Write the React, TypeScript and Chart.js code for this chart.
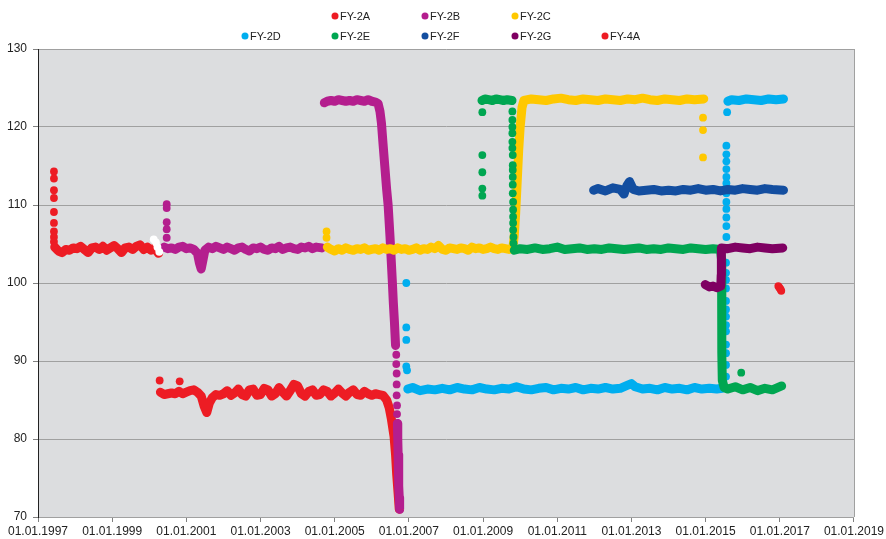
import React, { useEffect, useRef } from "react";
import { Chart, registerables } from "chart.js";

Chart.register(...registerables);

type P = [number, number];

// ---------- data (x = decimal year, y = value) ----------
const SERIES_NAMES = ["FY-2A", "FY-2B", "FY-2C", "FY-2D", "FY-2E", "FY-2F", "FY-2G", "FY-4A"];
const SERIES_COLORS = ["#ed1c24", "#b41e8e", "#ffc800", "#00aeef", "#00a651", "#134ea0", "#7f0062", "#ed1c24"];
const LEGEND_ROWS = [["FY-2A", "FY-2B", "FY-2C"], ["FY-2D", "FY-2E", "FY-2F", "FY-2G", "FY-4A"]];
const X_TICK_YEARS = [1997, 1999, 2001, 2003, 2005, 2007, 2009, 2011, 2013, 2015, 2017, 2019];

const FY2A_DOTS1: P[] = [[1997.43, 114.3], [1997.43, 113.4], [1997.43, 111.9], [1997.43, 110.9], [1997.43, 109.1], [1997.43, 107.7], [1997.43, 106.6], [1997.43, 105.9], [1997.43, 105.3]];
const FY2A_BAND1: P[] = [[1997.45, 104.6], [1997.55, 104.1], [1997.65, 103.9], [1997.75, 104.3], [1997.85, 104.2], [1997.95, 104.5], [1998.05, 104.4], [1998.15, 104.7], [1998.25, 104.3], [1998.35, 103.9], [1998.45, 104.5], [1998.55, 104.6], [1998.65, 104.3], [1998.75, 104.7], [1998.85, 104.2], [1998.95, 104.5], [1999.05, 104.8], [1999.15, 104.4], [1999.25, 103.9], [1999.35, 104.5], [1999.45, 104.6], [1999.55, 104.3], [1999.65, 104.7], [1999.75, 104.9], [1999.85, 104.3], [1999.95, 104.6], [2000.05, 104.2], [2000.15, 104.5], [2000.25, 103.8]];
const FY2A_DOTS2: P[] = [[2000.28, 87.5], [2000.82, 87.4]];
const FY2A_BAND2: P[] = [[2000.3, 86.0], [2000.4, 85.7], [2000.5, 85.8], [2000.6, 85.9], [2000.7, 85.8], [2000.8, 86.1], [2000.9, 85.8], [2001.0, 86.0], [2001.1, 86.2], [2001.2, 86.3], [2001.3, 86.0], [2001.4, 85.5], [2001.48, 84.2], [2001.55, 83.4], [2001.62, 84.6], [2001.7, 85.3], [2001.8, 85.7], [2001.9, 85.6], [2002.0, 85.8], [2002.1, 86.2], [2002.2, 85.6], [2002.3, 85.9], [2002.4, 86.4], [2002.5, 85.7], [2002.6, 85.5], [2002.7, 86.3], [2002.8, 86.4], [2002.9, 85.6], [2003.0, 85.7], [2003.1, 86.5], [2003.2, 86.3], [2003.3, 85.5], [2003.4, 85.8], [2003.5, 86.6], [2003.6, 86.0], [2003.7, 85.5], [2003.8, 86.2], [2003.9, 87.0], [2004.0, 86.8], [2004.1, 85.8], [2004.2, 85.5], [2004.3, 86.1], [2004.4, 86.3], [2004.5, 85.6], [2004.6, 85.7], [2004.7, 86.3], [2004.8, 86.1], [2004.9, 85.5], [2005.0, 85.9], [2005.1, 86.4], [2005.2, 85.9], [2005.3, 85.5], [2005.4, 86.0], [2005.5, 86.3], [2005.6, 85.7], [2005.7, 85.6], [2005.8, 86.1], [2005.9, 85.8], [2006.0, 85.6], [2006.1, 85.8], [2006.2, 85.7], [2006.3, 85.6], [2006.4, 85.0], [2006.47, 84.0], [2006.53, 82.5], [2006.6, 80.3], [2006.64, 78.0], [2006.67, 75.5], [2006.71, 73.0], [2006.74, 71.0]];

const FY2B_DOTS1: P[] = [[2000.47, 110.1], [2000.47, 109.6], [2000.47, 107.8], [2000.47, 106.9], [2000.47, 105.8]];
const FY2B_BAND1: P[] = [[2000.4, 104.6], [2000.5, 104.4], [2000.6, 104.5], [2000.7, 104.3], [2000.8, 104.6], [2000.9, 104.7], [2001.0, 104.4], [2001.1, 104.5], [2001.2, 104.3], [2001.3, 103.8], [2001.35, 102.6], [2001.4, 101.8], [2001.45, 103.0], [2001.5, 104.2], [2001.6, 104.6], [2001.7, 104.4], [2001.8, 104.7], [2001.9, 104.5], [2002.0, 104.3], [2002.1, 104.6], [2002.2, 104.4], [2002.3, 104.2], [2002.4, 104.5], [2002.5, 104.6], [2002.6, 104.3], [2002.7, 104.1], [2002.8, 104.5], [2002.9, 104.4], [2003.0, 104.6], [2003.1, 104.3], [2003.2, 104.2], [2003.3, 104.5], [2003.4, 104.4], [2003.5, 104.7], [2003.6, 104.3], [2003.7, 104.5], [2003.8, 104.6], [2003.9, 104.4], [2004.0, 104.3], [2004.1, 104.6], [2004.2, 104.5], [2004.3, 104.7], [2004.4, 104.4], [2004.5, 104.6], [2004.65, 104.5]];
const FY2B_BAND2: P[] = [[2004.72, 123.1], [2004.8, 123.3], [2004.9, 123.4], [2005.0, 123.3], [2005.1, 123.5], [2005.2, 123.4], [2005.3, 123.3], [2005.4, 123.4], [2005.5, 123.3], [2005.6, 123.5], [2005.7, 123.4], [2005.8, 123.3], [2005.9, 123.5], [2006.0, 123.3], [2006.1, 123.2], [2006.17, 123.0], [2006.22, 122.0], [2006.26, 120.5], [2006.3, 118.0], [2006.35, 115.0], [2006.4, 112.0], [2006.44, 110.0], [2006.49, 106.0], [2006.55, 100.5], [2006.58, 97.5], [2006.61, 95.0], [2006.64, 92.0]];
const FY2B_DOTS2: P[] = [[2006.66, 90.8], [2006.66, 89.6], [2006.67, 88.4], [2006.67, 87.0], [2006.67, 85.6], [2006.68, 84.3], [2006.68, 83.2]];
const FY2B_BAND3: P[] = [[2006.69, 82.0], [2006.7, 80.0], [2006.71, 78.0], [2006.72, 76.0], [2006.73, 74.0], [2006.74, 72.5], [2006.75, 71.0]];

const FY2C_DOTS1: P[] = [[2004.78, 106.6], [2004.78, 105.8]];
const FY2C_BAND1: P[] = [[2004.8, 104.6], [2004.9, 104.3], [2005.0, 104.1], [2005.1, 104.4], [2005.2, 104.2], [2005.3, 104.5], [2005.4, 104.3], [2005.5, 104.2], [2005.6, 104.4], [2005.7, 104.3], [2005.8, 104.5], [2005.9, 104.2], [2006.0, 104.3], [2006.1, 104.4], [2006.2, 104.2], [2006.3, 104.5], [2006.4, 104.3], [2006.5, 104.4], [2006.6, 104.2], [2006.7, 104.5], [2006.8, 104.3], [2006.9, 104.4], [2007.0, 104.2], [2007.1, 104.3], [2007.2, 104.5], [2007.3, 104.2], [2007.4, 104.4], [2007.5, 104.3], [2007.6, 104.6], [2007.7, 104.4], [2007.8, 104.8], [2007.9, 104.3], [2008.0, 104.2], [2008.1, 104.5], [2008.2, 104.4], [2008.3, 104.3], [2008.4, 104.5], [2008.5, 104.4], [2008.6, 104.2], [2008.7, 104.6], [2008.8, 104.4], [2008.9, 104.5], [2009.0, 104.3], [2009.1, 104.4], [2009.2, 104.6], [2009.3, 104.4], [2009.4, 104.3], [2009.5, 104.5], [2009.6, 104.4], [2009.7, 104.3], [2009.8, 104.4], [2009.84, 106.0], [2009.88, 109.0], [2009.92, 113.0], [2009.96, 117.0], [2010.0, 120.0], [2010.05, 122.5], [2010.1, 123.4], [2010.3, 123.6], [2010.5, 123.5], [2010.7, 123.4], [2010.9, 123.6], [2011.1, 123.7], [2011.3, 123.5], [2011.5, 123.4], [2011.7, 123.6], [2011.9, 123.5], [2012.1, 123.4], [2012.3, 123.6], [2012.5, 123.5], [2012.7, 123.4], [2012.9, 123.6], [2013.1, 123.5], [2013.3, 123.7], [2013.5, 123.5], [2013.7, 123.4], [2013.9, 123.6], [2014.1, 123.5], [2014.3, 123.4], [2014.5, 123.6], [2014.7, 123.5], [2014.95, 123.6]];
const FY2C_DOTS2: P[] = [[2014.93, 121.2], [2014.93, 119.6], [2014.93, 116.1]];

const FY2D_DOTS1: P[] = [[2006.93, 100.0], [2006.93, 94.3], [2006.93, 92.7], [2006.93, 89.3], [2006.95, 88.8]];
const FY2D_BAND1: P[] = [[2006.97, 86.4], [2007.1, 86.6], [2007.3, 86.2], [2007.5, 86.4], [2007.7, 86.3], [2007.9, 86.5], [2008.1, 86.3], [2008.3, 86.6], [2008.5, 86.4], [2008.7, 86.3], [2008.9, 86.6], [2009.1, 86.4], [2009.3, 86.3], [2009.5, 86.5], [2009.7, 86.4], [2009.9, 86.7], [2010.1, 86.4], [2010.3, 86.3], [2010.5, 86.5], [2010.7, 86.6], [2010.9, 86.3], [2011.1, 86.5], [2011.3, 86.4], [2011.5, 86.6], [2011.7, 86.3], [2011.9, 86.5], [2012.1, 86.4], [2012.3, 86.6], [2012.5, 86.4], [2012.7, 86.5], [2012.9, 86.9], [2013.0, 87.1], [2013.1, 86.7], [2013.3, 86.4], [2013.5, 86.5], [2013.7, 86.3], [2013.9, 86.6], [2014.1, 86.4], [2014.3, 86.5], [2014.5, 86.3], [2014.7, 86.6], [2014.9, 86.4], [2015.1, 86.5], [2015.3, 86.4], [2015.45, 86.5]];
const FY2D_DOTS2: P[] = [[2015.55, 88.0], [2015.55, 89.5], [2015.55, 91.0], [2015.55, 92.1], [2015.55, 93.8], [2015.55, 94.6], [2015.55, 95.7], [2015.55, 96.6], [2015.55, 97.7], [2015.55, 99.3], [2015.55, 100.4], [2015.55, 101.3], [2015.55, 102.6], [2015.56, 105.9], [2015.56, 107.3], [2015.56, 108.4], [2015.56, 109.5], [2015.56, 110.4], [2015.56, 111.5], [2015.56, 112.8], [2015.56, 113.6], [2015.56, 114.6], [2015.56, 115.6], [2015.56, 116.5], [2015.56, 117.6], [2015.58, 121.9]];
const FY2D_BAND2: P[] = [[2015.6, 123.3], [2015.7, 123.5], [2015.9, 123.4], [2016.1, 123.6], [2016.3, 123.5], [2016.5, 123.4], [2016.7, 123.6], [2016.9, 123.5], [2017.1, 123.6]];

const FY2E_DOTS1: P[] = [[2008.98, 121.9], [2008.98, 116.4], [2008.98, 114.2], [2008.98, 112.1], [2008.98, 111.2]];
const FY2E_BAND1: P[] = [[2008.97, 123.4], [2009.05, 123.6], [2009.15, 123.5], [2009.25, 123.4], [2009.35, 123.6], [2009.45, 123.5], [2009.55, 123.4], [2009.65, 123.5], [2009.78, 123.4]];
const FY2E_DOTS2: P[] = [[2009.79, 122.0], [2009.79, 120.9], [2009.79, 120.0], [2009.79, 119.2], [2009.79, 118.1], [2009.79, 117.3], [2009.8, 116.4], [2009.8, 115.1], [2009.8, 114.5], [2009.8, 113.6], [2009.8, 112.6], [2009.8, 111.5], [2009.81, 110.4], [2009.81, 109.4], [2009.81, 108.5], [2009.81, 107.7], [2009.81, 106.8], [2009.82, 105.9], [2009.82, 105.1]];
const FY2E_BAND2: P[] = [[2009.84, 104.2], [2010.0, 104.4], [2010.2, 104.3], [2010.4, 104.5], [2010.6, 104.3], [2010.8, 104.4], [2011.0, 104.6], [2011.2, 104.3], [2011.4, 104.4], [2011.6, 104.5], [2011.8, 104.3], [2012.0, 104.4], [2012.2, 104.3], [2012.4, 104.5], [2012.6, 104.4], [2012.8, 104.3], [2013.0, 104.4], [2013.2, 104.5], [2013.4, 104.3], [2013.6, 104.4], [2013.8, 104.3], [2014.0, 104.5], [2014.2, 104.4], [2014.4, 104.3], [2014.6, 104.5], [2014.8, 104.4], [2015.0, 104.3], [2015.2, 104.4], [2015.4, 104.3], [2015.43, 103.0], [2015.43, 99.0], [2015.44, 95.0], [2015.44, 91.0], [2015.45, 87.5], [2015.5, 86.6], [2015.6, 86.4], [2015.8, 86.7], [2016.0, 86.3], [2016.2, 86.6], [2016.4, 86.2], [2016.6, 86.5], [2016.8, 86.3], [2017.05, 86.8]];
const FY2E_DOTS3: P[] = [[2015.96, 88.5]];

const FY2F_BAND: P[] = [[2011.98, 111.9], [2012.1, 112.1], [2012.3, 111.8], [2012.5, 112.2], [2012.7, 112.0], [2012.8, 111.4], [2012.88, 112.5], [2012.95, 113.0], [2013.05, 112.0], [2013.2, 111.8], [2013.4, 111.9], [2013.6, 112.0], [2013.8, 111.8], [2014.0, 111.9], [2014.2, 111.8], [2014.4, 112.0], [2014.6, 111.9], [2014.8, 112.1], [2015.0, 111.9], [2015.2, 112.0], [2015.4, 111.8], [2015.6, 112.0], [2015.8, 111.9], [2016.0, 112.1], [2016.2, 112.0], [2016.4, 111.9], [2016.6, 112.1], [2016.8, 112.0], [2017.1, 111.9]];

const FY2G_BAND: P[] = [[2014.99, 99.8], [2015.1, 99.5], [2015.2, 99.6], [2015.3, 99.4], [2015.41, 99.6], [2015.42, 101.0], [2015.42, 103.0], [2015.43, 104.5], [2015.6, 104.4], [2015.8, 104.6], [2016.0, 104.5], [2016.2, 104.4], [2016.4, 104.6], [2016.6, 104.5], [2016.8, 104.4], [2017.08, 104.5]];

const FY4A_DOTS: P[] = [[2016.96, 99.6], [2016.99, 99.4], [2017.02, 99.2], [2017.04, 99.0]];

const WHITE_DOTS: P[] = [[2000.12, 105.6], [2000.18, 105.2], [2000.22, 104.6], [2000.27, 104.0]];

// series index -> segments
const BANDS: [number, P[]][] = [
  [0, FY2A_BAND1], [0, FY2A_BAND2],
  [1, FY2B_BAND1], [1, FY2B_BAND2], [1, FY2B_BAND3],
  [2, FY2C_BAND1],
  [3, FY2D_BAND1], [3, FY2D_BAND2],
  [4, FY2E_BAND1], [4, FY2E_BAND2],
  [5, FY2F_BAND],
  [6, FY2G_BAND],
];
const DOTS: [number, P[]][] = [
  [0, FY2A_DOTS1], [0, FY2A_DOTS2],
  [1, FY2B_DOTS1], [1, FY2B_DOTS2],
  [2, FY2C_DOTS1], [2, FY2C_DOTS2],
  [3, FY2D_DOTS1], [3, FY2D_DOTS2],
  [4, FY2E_DOTS1], [4, FY2E_DOTS2], [4, FY2E_DOTS3],
  [7, FY4A_DOTS],
];

const FONT = '"Liberation Sans", Arial, Helvetica, sans-serif';

const toXY = (pts: P[]) => pts.map(([x, y]) => ({ x, y }));

const plotDecor = {
  id: "plotDecor",
  beforeDraw(chart: any) {
    const { ctx, chartArea: a } = chart;
    ctx.save();
    ctx.fillStyle = "#dcdddf";
    ctx.fillRect(a.left, a.top, a.right - a.left, a.bottom - a.top);
    ctx.restore();
  },
  afterDraw(chart: any) {
    const { ctx, chartArea: a } = chart;
    ctx.save();
    ctx.strokeStyle = "#a0a0a0";
    ctx.lineWidth = 1;
    ctx.beginPath();
    ctx.moveTo(Math.round(a.right) + 0.5, a.top);
    ctx.lineTo(Math.round(a.right) + 0.5, a.bottom);
    ctx.stroke();
    // legend
    ctx.font = `11px ${FONT}`;
    ctx.textBaseline = "middle";
    ctx.textAlign = "left";
    const center = 425;
    LEGEND_ROWS.forEach((row, r) => {
      const y = 16 + r * 20;
      row.forEach((name, i) => {
        const x = center + (i - (row.length - 1) / 2) * 90;
        const idx = SERIES_NAMES.indexOf(name);
        ctx.fillStyle = SERIES_COLORS[idx];
        ctx.beginPath();
        ctx.arc(x, y, 3.5, 0, Math.PI * 2);
        ctx.fill();
        ctx.fillStyle = "#222";
        ctx.fillText(name, x + 5, y + 0.5);
      });
    });
    ctx.restore();
  },
};

export default function App() {
  const ref = useRef<HTMLCanvasElement | null>(null);
  useEffect(() => {
    document.body.style.margin = "0";
    const datasets: any[] = [];
    BANDS.forEach(([s, pts]) => {
      datasets.push({
        label: SERIES_NAMES[s],
        data: toXY(pts),
        showLine: true,
        borderColor: SERIES_COLORS[s],
        backgroundColor: SERIES_COLORS[s],
        borderWidth: 9,
        borderCapStyle: "round",
        borderJoinStyle: "round",
        pointRadius: 0,
        pointHoverRadius: 0,
        order: 20 - s,
      });
    });
    DOTS.forEach(([s, pts]) => {
      datasets.push({
        label: SERIES_NAMES[s],
        data: toXY(pts),
        showLine: false,
        backgroundColor: SERIES_COLORS[s],
        borderColor: SERIES_COLORS[s],
        borderWidth: 0,
        pointRadius: 3.9,
        order: 20 - s,
      });
    });
    datasets.push({
      label: "",
      data: toXY(WHITE_DOTS),
      showLine: false,
      backgroundColor: "#ffffff",
      borderWidth: 0,
      pointRadius: 3.9,
      order: 0,
    });

    const chart = new Chart(ref.current as HTMLCanvasElement, {
      type: "scatter",
      data: { datasets },
      plugins: [plotDecor],
      options: {
        animation: false,
        responsive: true,
        maintainAspectRatio: false,
        layout: { padding: { top: 49, right: 31, left: 0, bottom: 0 } },
        plugins: { legend: { display: false }, tooltip: { enabled: false } },
        scales: {
          x: {
            type: "linear",
            min: X_TICK_YEARS[0],
            max: X_TICK_YEARS[X_TICK_YEARS.length - 1],
            afterBuildTicks: (scale: any) => {
              scale.ticks = X_TICK_YEARS.map((v) => ({ value: v }));
            },
            ticks: {
              callback: (v: any) => "01.01." + v,
              maxRotation: 0,
              autoSkip: false,
              color: "#222",
              font: { size: 12, family: FONT },
              padding: 2,
            },
            grid: { drawOnChartArea: false, tickColor: "#808080", tickLength: 5 },
            border: { color: "#a0a0a0" },
            afterFit: (s: any) => {
              s.height = 22;
            },
          },
          y: {
            type: "linear",
            min: 70,
            max: 130,
            ticks: { stepSize: 10, color: "#222", font: { size: 12, family: FONT }, padding: 6 },
            grid: { color: "#a0a0a0", tickColor: "#808080", tickLength: 5 },
            border: { color: "#222" },
            afterFit: (s: any) => {
              s.width = 38;
            },
          },
        },
      },
    });
    return () => chart.destroy();
  }, []);
  return (
    <div style={{ width: 886, height: 539, position: "relative" }}>
      <canvas ref={ref} />
    </div>
  );
}
